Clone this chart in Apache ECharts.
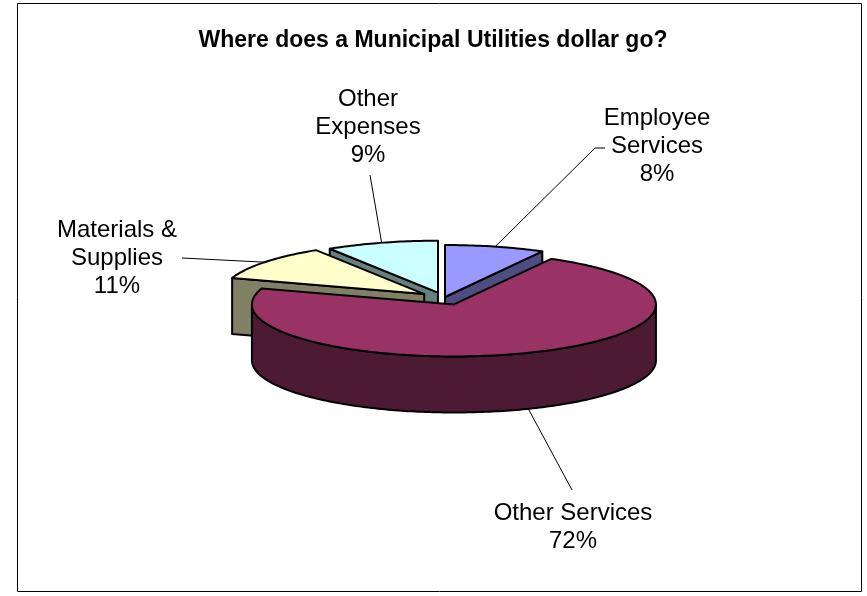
<!DOCTYPE html>
<html>
<head>
<meta charset="utf-8">
<script src="https://cdn.jsdelivr.net/npm/echarts@6/dist/echarts.min.js"></script>
<style>
html, body { margin: 0; padding: 0; background: #fff; }
#main { width: 867px; height: 596px; }
</style>
</head>
<body>
<div id="main"></div>
<script>
// data
var names = ['Employee\nServices', 'Other Services', 'Materials &\nSupplies', 'Other\nExpenses'];
var values = [8, 72, 11, 9];

// styles
var topColors = ['#9999FF', '#993366', '#FFFFCC', '#CCFFFF'];
var sideColors = ['#4D4D80', '#4D1A33', '#808066', '#668080'];

// layout of the 3d pie (pixels)
var pie = { cx : 444, cy : 298, rx : 202, ry : 52, depth : 56 };
var explode = [4, 27, 25, 21.5];
var labelPos = [[657, 146], [573, 527], [117, 258], [368, 127]];
var leaderTo = [[[595, 148], [605, 148]], [[572, 490]], [[182, 258]], [[370, 175]]];

var total = 0;
for (var i = 0; i < values.length; i++) total += values[i];

var slices = [];
var acc = 0;
for (var i = 0; i < values.length; i++) {
	var a0 = acc / total * Math.PI * 2;
	acc += values[i];
	var a1 = acc / total * Math.PI * 2;
	var m = (a0 + a1) / 2;
	var c = [pie.cx + explode[i] * Math.sin(m),
	         pie.cy - explode[i] * Math.cos(m) * pie.ry / pie.rx];
	slices.push({ a0 : a0, a1 : a1, m : m, c : c,
	              depthKey : c[1] - 0.5 * pie.ry * Math.cos(m) });
}
// back slices first
var order = slices.map(function(s, i) { return i; })
	.sort(function(a, b) { return slices[a].depthKey - slices[b].depthKey; });
var rank = [];
order.forEach(function(idx, r) { rank[idx] = r; });

function pt(c, a, dz) {
	return [c[0] + pie.rx * Math.sin(a), c[1] - pie.ry * Math.cos(a) + (dz || 0)];
}
function arc(c, a0, a1, dz) {
	var pts = [];
	var n = Math.max(2, Math.ceil(Math.abs(a1 - a0) / (Math.PI / 180)));
	for (var k = 0; k <= n; k++) pts.push(pt(c, a0 + (a1 - a0) * k / n, dz));
	return pts;
}

function renderSlice(params, api) {
	var i = params.dataIndex;
	var s = slices[i];
	var c = s.c;
	var d = pie.depth;
	var base = rank[i] * 10;
	var edge = { stroke : '#000', lineWidth : 2, lineJoin : 'round' };
	var children = [];

	// radial walls
	if (Math.sin(s.a0) < -1e-6) {
		children.push({ type : 'polygon', z2 : base + 1,
			shape : { points : [c, pt(c, s.a0), pt(c, s.a0, d), [c[0], c[1] + d]] },
			style : Object.assign({ fill : sideColors[i] }, edge) });
	}
	if (Math.sin(s.a1) > 1e-6) {
		children.push({ type : 'polygon', z2 : base + 1,
			shape : { points : [c, pt(c, s.a1), pt(c, s.a1, d), [c[0], c[1] + d]] },
			style : Object.assign({ fill : sideColors[i] }, edge) });
	}
	// outer front wall
	var f0 = Math.max(s.a0, Math.PI / 2), f1 = Math.min(s.a1, Math.PI * 1.5);
	if (f0 < f1) {
		var wall = arc(c, f0, f1).concat(arc(c, f1, f0, d));
		children.push({ type : 'polygon', z2 : base + 2,
			shape : { points : wall },
			style : Object.assign({ fill : sideColors[i] }, edge) });
	}
	// top face
	children.push({ type : 'polygon', z2 : base + 3,
		shape : { points : [c].concat(arc(c, s.a0, s.a1)) },
		style : Object.assign({ fill : topColors[i] }, edge) });

	// leader line and label
	var anchor = Math.cos(s.m) < 0 ? pt(c, s.m, d) : pt(c, s.m);
	children.push({ type : 'polyline', z2 : 100,
		shape : { points : [anchor].concat(leaderTo[i]) },
		style : { stroke : '#000', lineWidth : 1, fill : null } });
	var pct = Math.round(values[i] / total * 100) + '%';
	children.push({ type : 'text', z2 : 101,
		style : {
			text : names[i] + '\n' + pct,
			x : labelPos[i][0], y : labelPos[i][1],
			fill : '#000',
			fontSize : 24,
			fontFamily : 'Arial, "Liberation Sans", sans-serif',
			lineHeight : 28,
			align : 'center',
			verticalAlign : 'middle'
		} });

	return { type : 'group', children : children };
}

var myChart = echarts.init(document.getElementById('main'));

var option = {
	backgroundColor : '#fff',
	animation : false,
	title : {
		text : 'Where does a Municipal Utilities dollar go?',
		left : 428,
		top : 24,
		textAlign : 'center',
		textStyle : {
			fontFamily : 'Arial, "Liberation Sans", sans-serif',
			fontSize : 23,
			fontWeight : 'bold',
			color : '#000'
		}
	},
	graphic : [ {
		type : 'rect',
		shape : { x : 17.5, y : 3.5, width : 844, height : 588 },
		style : { fill : null, stroke : '#000', lineWidth : 1 },
		silent : true
	} ],
	series : [ {
		type : 'custom',
		coordinateSystem : 'none',
		silent : true,
		renderItem : renderSlice,
		data : values
	} ]
};

myChart.setOption(option);
</script>
</body>
</html>
